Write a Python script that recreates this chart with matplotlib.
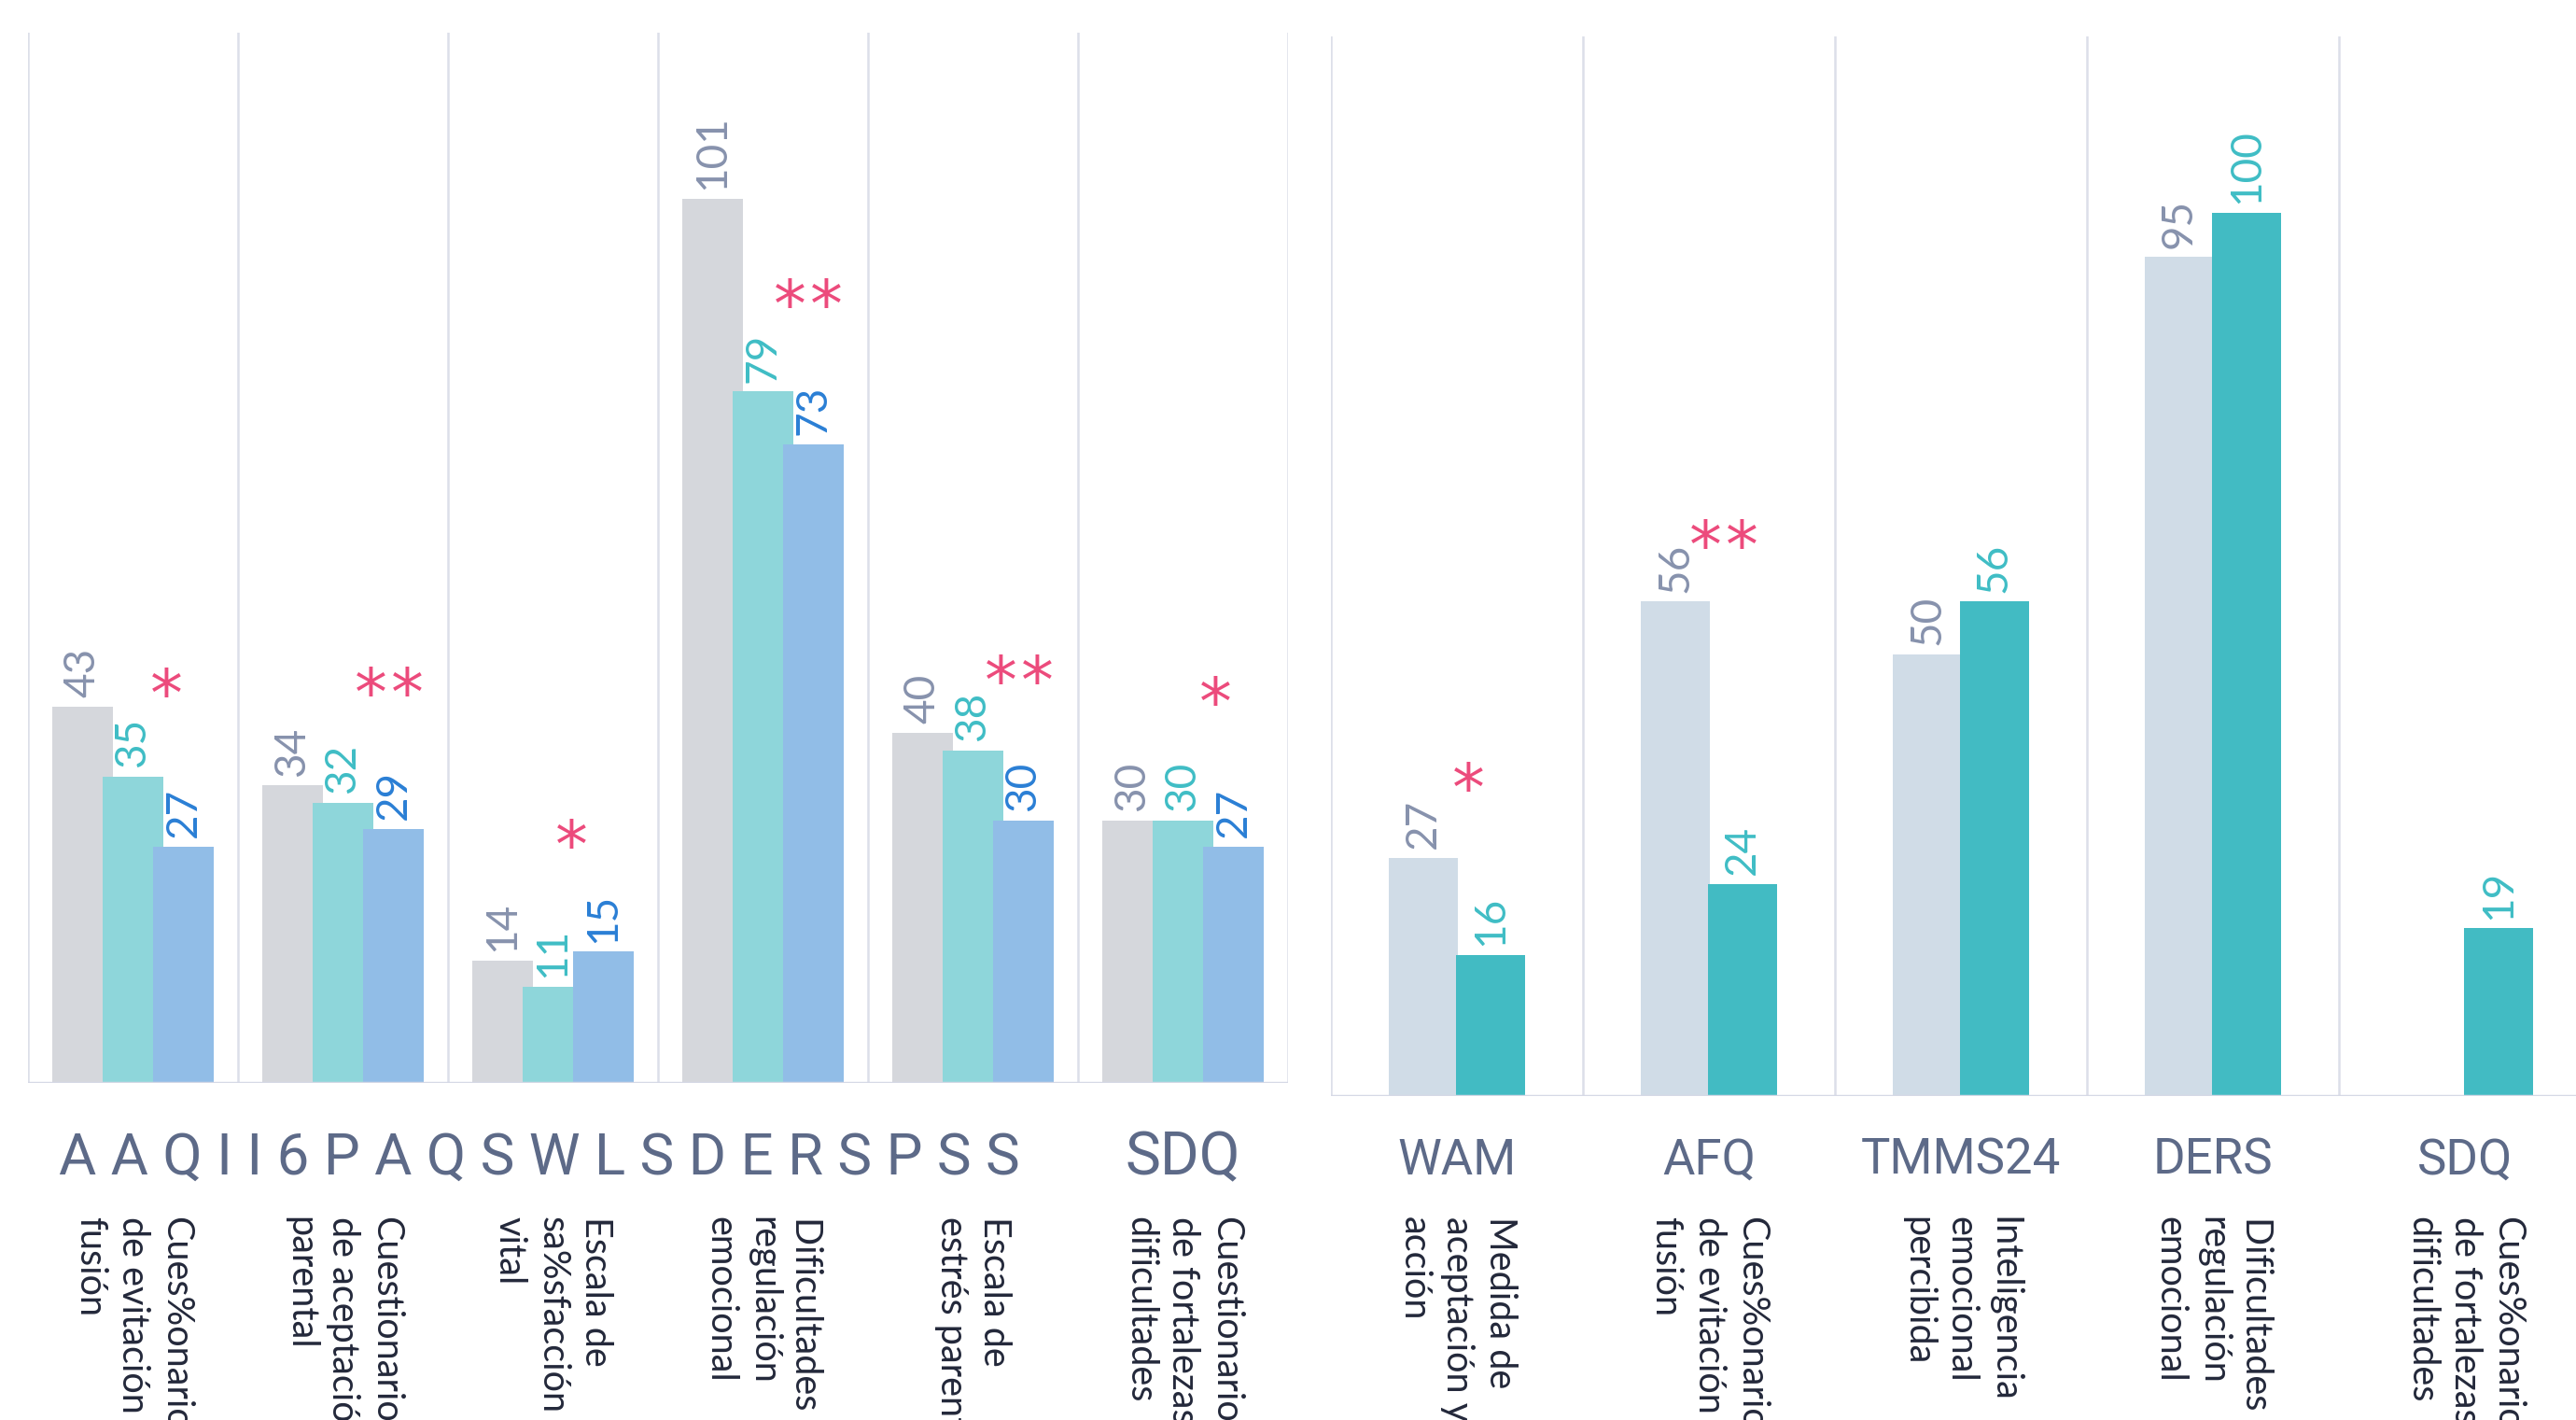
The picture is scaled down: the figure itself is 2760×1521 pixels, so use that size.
import numpy as np
import matplotlib
matplotlib.use("Agg")
import matplotlib.pyplot as plt
import matplotlib.transforms as mtransforms
from matplotlib import font_manager

# ---------------- data ----------------
left_codes = ["AAQII", "6PAQ", "SWLS", "DERS", "PSS", "SDQ"]
left_names = [
    "Cues%onario\nde evitación y\nfusión",
    "Cuestionario\nde aceptación\nparental",
    "Escala de\nsa%sfacción\nvital",
    "Dificultades de\nregulación\nemocional",
    "Escala de\nestrés parental",
    "Cuestionario\nde fortalezas y\ndificultades",
]
left_s1 = [43, 34, 14, 101, 40, 30]
left_s2 = [35, 32, 11, 79, 38, 30]
left_s3 = [27, 29, 15, 73, 30, 27]
left_sig = ["*", "**", "*", "**", "**", "*"]
left_sig_y = [46.2, 46.3, 28.9, 90.7, 47.7, 45.2]
left_sig_dx = [0.16, 0.22, 0.087, 0.215, 0.218, 0.153]

right_codes = ["WAM", "AFQ", "TMMS24", "DERS", "SDQ"]
right_names = [
    "Medida de\naceptación y\nacción",
    "Cues%onario\nde evitación y\nfusión",
    "Inteligencia\nemocional\npercibida",
    "Dificultades de\nregulación\nemocional",
    "Cues%onario\nde fortalezas y\ndificultades",
]
right_s1 = [27, 56, 50, 95, np.nan]
right_s2 = [16, 24, 56, 100, 19]
right_sig = ["*", "**", "", "", ""]
right_sig_y = [36.6, 64.1, np.nan, np.nan, np.nan]
right_sig_dx = [0.046, 0.06, 0.0, 0.0, 0.0]

# ---------------- fonts ----------------
avail = {f.name for f in font_manager.fontManager.ttflist}
def pick(cands):
    for c in cands:
        if c in avail:
            return c
    return "DejaVu Sans"

F_CODE = pick(["Roboto", "Lato", "DejaVu Sans"])
F_NAME = pick(["Lato", "Open Sans", "DejaVu Sans"])
F_VAL = pick(["Lato", "Roboto", "DejaVu Sans"])
F_STAR = "DejaVu Sans"

# ---------------- colours ----------------
C_GRID = "#dcdfe9"
C_BASE = "#d6d9e6"
C_CODE = "#5d6a88"
C_NAME = "#23283a"
C_STAR = "#ec4b7c"
L_BAR = ["#d5d7dc", "#8ed6da", "#91bde7"]
L_TXT = ["#8792ad", "#3fbdc5", "#2a7fd5"]
R_BAR = ["#d0dce7", "#42bbc3"]
R_TXT = ["#8792ad", "#3fbdc5"]

W, H = 2760, 1521
DPI = 100
fig = plt.figure(figsize=(W / DPI, H / DPI), dpi=DPI)
fig.patch.set_facecolor("white")

axL = fig.add_axes([30 / W, 1 - 1160 / H, 1350 / W, 1125 / H])
axR = fig.add_axes([1426 / W, 1 - 1174 / H, 1350 / W, 1135 / H])


def frame(ax, n):
    ax.set_xlim(-0.5, n - 0.5)
    ax.set_ylim(0, 120)
    ax.set_axis_off()
    for b in np.arange(n + 1) - 0.5:
        ax.axvline(b, color=C_GRID, lw=1.8, zorder=0)
    ax.axhline(0, color=C_BASE, lw=2.5, zorder=3)


def value_labels(ax, xs, vals, color):
    for x, v in zip(xs, vals):
        if np.isnan(v):
            continue
        ax.annotate(f"{v:.0f}", (x, v), xytext=(0, 7), textcoords="offset points",
                    rotation=90, ha="center", va="bottom", fontsize=33,
                    family=F_VAL, color=color, zorder=5)


def stars(ax, sig, ys, dxs):
    for i, (s, y, dx) in enumerate(zip(sig, ys, dxs)):
        n = len(s)
        for k in range(n):
            tr = mtransforms.offset_copy(ax.transData, fig=fig,
                                         x=(k - (n - 1) / 2) * 39, y=-40, units="dots")
            ax.text(i + dx, y, "*", transform=tr, ha="center", va="baseline",
                    fontsize=50, family=F_STAR, color=C_STAR, zorder=6)


# ---------------- left panel ----------------
nL = len(left_codes)
xL = np.arange(nL)
frame(axL, nL)
wL, stepL = 0.293, 0.24
for j, vals in enumerate([left_s1, left_s2, left_s3]):
    xs = xL + (j - 1) * stepL
    axL.bar(xs, vals, width=wL, color=L_BAR[j], zorder=2 + j * 0.1, linewidth=0)
    value_labels(axL, xs, np.array(vals, dtype=float), L_TXT[j])
stars(axL, left_sig, left_sig_y, left_sig_dx)

# ---------------- right panel ----------------
nR = len(right_codes)
xR = np.arange(nR)
frame(axR, nR)
wR, stepR = 0.274, 0.266
for j, vals in enumerate([right_s1, right_s2]):
    xs = xR + (j - 0.5) * stepR
    axR.bar(xs, vals, width=wR, color=R_BAR[j], zorder=2 + j * 0.1, linewidth=0)
    value_labels(axR, xs, np.array(vals, dtype=float), R_TXT[j])
stars(axR, right_sig, right_sig_y, right_sig_dx)

# ---------------- category codes ----------------
y_code = 1 - 1258 / H
trL = mtransforms.blended_transform_factory(axL.transData, fig.transFigure)
trR = mtransforms.blended_transform_factory(axR.transData, fig.transFigure)
spaced = " ".join("".join(left_codes[:5]))
fig.text(1.936, y_code, spaced, transform=trL, ha="center", va="baseline",
         fontsize=44.5, family=F_CODE, color=C_CODE)
fig.text(xL[5], y_code, left_codes[5], transform=trL, ha="center", va="baseline",
         fontsize=46, family=F_CODE, color=C_CODE)
for x, c in zip(xR, right_codes):
    fig.text(x, y_code, c, transform=trR, ha="center", va="baseline",
             fontsize=38, family=F_CODE, color=C_CODE)

# ---------------- long names (vertical) ----------------
y_name = 1 - 1303 / H
for x, t in zip(xL, left_names):
    fig.text(x, y_name, t, transform=trL, rotation=270, ha="center", va="top",
             multialignment="left", linespacing=1.3, fontsize=28.5,
             family=F_NAME, color=C_NAME)
for x, t in zip(xR, right_names):
    fig.text(x, y_name, t, transform=trR, rotation=270, ha="center", va="top",
             multialignment="left", linespacing=1.3, fontsize=28.5,
             family=F_NAME, color=C_NAME)

fig.savefig("out.png", dpi=DPI, facecolor="white")
